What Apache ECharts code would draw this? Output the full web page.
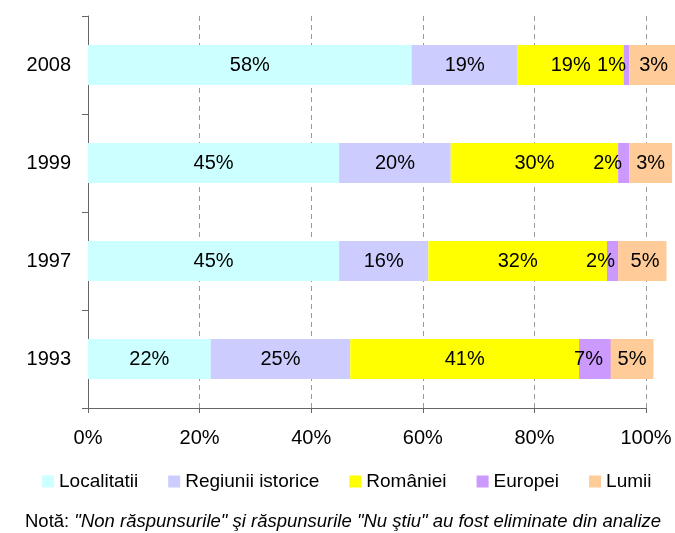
<!DOCTYPE html>
<html>
<head>
<meta charset="utf-8">
<script src="https://cdn.jsdelivr.net/npm/echarts@6/dist/echarts.min.js"></script>
<style>
  html, body { margin: 0; padding: 0; background: #fff; }
  #main { width: 675px; height: 533px; }
</style>
</head>
<body>
<div id="main"></div>
<script>
var years = ['1993', '1997', '1999', '2008']
var seriesNames = ['Localitatii', 'Regiunii istorice', 'României', 'Europei', 'Lumii']
var localitatii = [22, 45, 45, 58]
var regiunii = [25, 16, 20, 19]
var romaniei = [41, 32, 30, 19]
var europei = [7, 2, 2, 1]
var lumii = [5, 5, 3, 3]
var xTicks = [0, 20, 40, 60, 80, 100]
var note = 'Notă: '
var noteItalic = '"Non răspunsurile" şi răspunsurile "Nu ştiu" au fost eliminate din analize'

var colors = ['#CCFFFF', '#CCCCFF', '#FFFF00', '#CC99FF', '#FFCC99']
// label shifts used in the original (labels moved by hand)
var europeiShift = [-10, -12, -16, -15]
var lumiiShift = [0, 13, 13, 16]
var font = "'Liberation Sans', Arial, sans-serif"

var myChart = echarts.init(document.getElementById('main'))

function mkSeries (idx, values, shifts, boxed) {
  return {
    name: seriesNames[idx],
    type: 'bar',
    stack: 'total',
    barWidth: 40,
    itemStyle: { color: colors[idx] },
    label: {
      show: true,
      position: 'inside',
      color: '#000',
      fontSize: 20,
      fontFamily: font,
      formatter: '{c}%'
    },
    data: values.map(function (v, i) {
      var item = { value: v }
      if (shifts) {
        item.label = { offset: [shifts[i], 0] }
        if (boxed) {
          item.label.backgroundColor = colors[idx]
          item.label.padding = [10, 7]
        }
      }
      return item
    })
  }
}

var option = {
  animation: false,
  backgroundColor: '#fff',
  textStyle: { fontFamily: font },
  title: {
    left: 25,
    top: 512,
    padding: 0,
    text: '{a|' + note + '}{b|' + noteItalic + '}',
    textStyle: {
      fontWeight: 'normal',
      rich: {
        a: { fontSize: 18.5, color: '#000', fontWeight: 'normal', fontFamily: font },
        b: { fontSize: 18.5, color: '#000', fontWeight: 'normal', fontStyle: 'italic', fontFamily: font }
      }
    }
  },
  legend: {
    top: 472,
    left: 42,
    padding: 0,
    itemWidth: 12,
    itemHeight: 12,
    itemGap: 30,
    icon: 'rect',
    data: seriesNames,
    textStyle: { fontSize: 19, color: '#000', fontFamily: font }
  },
  grid: {
    left: 88,
    right: 29,
    top: 16,
    bottom: 125,
    containLabel: false
  },
  xAxis: {
    type: 'value',
    min: xTicks[0],
    max: xTicks[xTicks.length - 1],
    interval: 20,
    axisLine: { show: true, lineStyle: { color: '#666', width: 1 } },
    axisTick: { show: true, length: 5, lineStyle: { color: '#666' } },
    axisLabel: {
      formatter: '{value}%',
      fontSize: 20,
      color: '#000',
      margin: 20,
      fontFamily: font
    },
    splitLine: {
      show: true,
      lineStyle: { color: '#999', type: [5, 4], width: 1 }
    }
  },
  yAxis: {
    type: 'category',
    data: years,
    axisLine: { show: true, lineStyle: { color: '#666', width: 1 } },
    axisTick: { show: true, length: 6, lineStyle: { color: '#666' } },
    axisLabel: { fontSize: 20, color: '#000', margin: 17, fontFamily: font },
    splitLine: { show: false }
  },
  series: [
    mkSeries(0, localitatii),
    mkSeries(1, regiunii),
    mkSeries(2, romaniei),
    mkSeries(3, europei, europeiShift, false),
    mkSeries(4, lumii, lumiiShift, true)
  ]
}
myChart.setOption(option)
</script>
</body>
</html>
